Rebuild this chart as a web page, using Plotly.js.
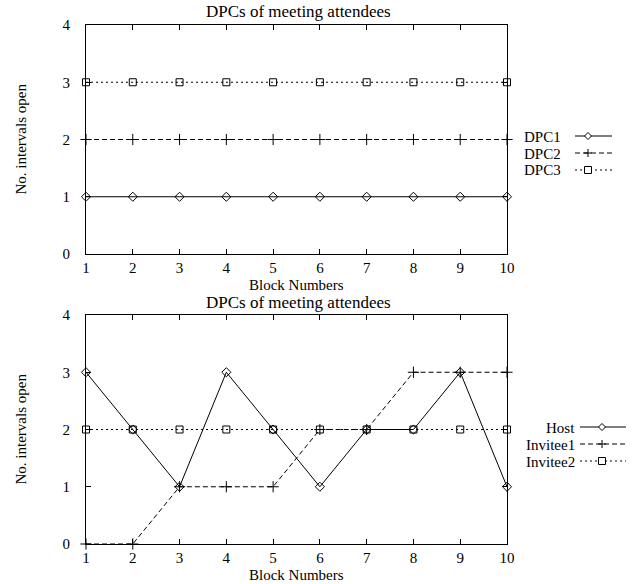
<!DOCTYPE html>
<html>
<head>
<meta charset="utf-8">
<script src="https://cdn.plot.ly/plotly-3.0.1.min.js"></script>
<style>html,body{margin:0;padding:0;background:#fff;}#chart{width:644px;height:584px;}</style>
</head>
<body>
<div id="chart"></div>
<script>
// ---- data ----
const blocks = [1, 2, 3, 4, 5, 6, 7, 8, 9, 10];
const dpc1 = [1, 1, 1, 1, 1, 1, 1, 1, 1, 1];
const dpc2 = [2, 2, 2, 2, 2, 2, 2, 2, 2, 2];
const dpc3 = [3, 3, 3, 3, 3, 3, 3, 3, 3, 3];
const host = [3, 2, 1, 3, 2, 1, 2, 2, 3, 1];
const invitee1 = [0, 0, 1, 1, 1, 2, 2, 3, 3, 3];
const invitee2 = [2, 2, 2, 2, 2, 2, 2, 2, 2, 2];
const topNames = ["DPC1", "DPC2", "DPC3"];
const botNames = ["Host", "Invitee1", "Invitee2"];
const chartTitle = "DPCs of meeting attendees";
const xTitle = "Block Numbers";
const yTitle = "No. intervals open";
const yTicks = [0, 1, 2, 3, 4];

const W = 644, H = 584;
const FONT = "Liberation Serif, Times New Roman, serif";
const px = x => x / W;
const py = y => 1 - y / H;

const styles = [
  {dash: "solid", symbol: "diamond-open", size: 7},
  {dash: "5px,3px", symbol: "cross-thin-open", size: 8},
  {dash: "2px,3px", symbol: "square-open", size: 7}
];

function mk(y, name, i, xa, ya) {
  return {
    x: blocks, y: y, name: name, xaxis: xa, yaxis: ya,
    type: "scatter", mode: "lines+markers", cliponaxis: false, showlegend: false,
    line: {color: "#000", width: 1, dash: styles[i].dash},
    marker: {symbol: styles[i].symbol, size: styles[i].size, color: "#000",
             line: {color: "#000", width: 1}}
  };
}

const traces = [
  mk(dpc1, topNames[0], 0, "x", "y"),
  mk(dpc2, topNames[1], 1, "x", "y"),
  mk(dpc3, topNames[2], 2, "x", "y"),
  mk(host, botNames[0], 0, "x2", "y2"),
  mk(invitee1, botNames[1], 1, "x2", "y2"),
  mk(invitee2, botNames[2], 2, "x2", "y2")
];

const xDom = [px(86), px(507)];
function xa(anchor) {
  return {domain: xDom, anchor: anchor, range: [1, 10], tickvals: blocks, ticktext: blocks.map(String),
    ticks: "inside", ticklen: 5, tickcolor: "#000", mirror: "ticks", showline: true,
    linecolor: "#000", linewidth: 1, showgrid: false, zeroline: false,
    tickfont: {family: FONT, size: 15, color: "#000"}, ticklabelstandoff: 0};
}
function ya(anchor, dom) {
  return {domain: dom, anchor: anchor, range: [0, 4], tickvals: yTicks, ticktext: yTicks.map(String),
    ticks: "inside", ticklen: 5, tickcolor: "#000", mirror: "ticks", showline: true,
    linecolor: "#000", linewidth: 1, showgrid: false, zeroline: false,
    tickfont: {family: FONT, size: 15, color: "#000"}, ticklabelstandoff: 12};
}

const annotations = [];
const shapes = [];
function txt(text, x, y, opts) {
  annotations.push(Object.assign({text: text, xref: "paper", yref: "paper", x: x, y: y,
    showarrow: false, font: {family: FONT, size: 17, color: "#000"},
    xanchor: "center", yanchor: "middle"}, opts || {}));
}
// titles
[0, 290].forEach(off => {
  txt(chartTitle, px(298), py(12 + off), {font: {family: FONT, size: 17, color: "#000"}});
  txt(xTitle, px(296), py(285 + off), {font: {family: FONT, size: 15, color: "#000"}});
  txt(yTitle, px(20), py(139.5 + off), {textangle: -90, font: {family: FONT, size: 15, color: "#000"}});
});

const markerPaths = [
  "M-3.5,0L0,3.5L3.5,0L0,-3.5Z",
  "M-4,0L4,0M0,-4L0,4",
  "M-3.5,-3.5L3.5,-3.5L3.5,3.5L-3.5,3.5Z"
];
function legend(names, textRight, x0, x1, xm, rows) {
  names.forEach((n, i) => {
    txt(n, px(textRight), py(rows[i]), {xanchor: "right", height: 13, borderpad: 0,
      font: {family: FONT, size: 15, color: "#000"}});
    shapes.push({type: "line", xref: "paper", yref: "paper", x0: px(x0), x1: px(x1),
      y0: py(rows[i]), y1: py(rows[i]), line: {color: "#000", width: 1, dash: styles[i].dash}});
    shapes.push({type: "path", xref: "paper", yref: "paper", xsizemode: "pixel", ysizemode: "pixel",
      xanchor: px(xm), yanchor: py(rows[i]), path: markerPaths[i],
      fillcolor: i === 1 ? "rgba(0,0,0,0)" : "#fff", line: {color: "#000", width: 1}});
  });
}
legend(topNames, 562, 575, 612, 588, [136, 153, 170]);
legend(botNames, 576, 580, 626, 602, [427, 444, 461]);

const layout = {
  width: W, height: H,
  margin: {l: 0, r: 0, t: 0, b: 0},
  paper_bgcolor: "#fff", plot_bgcolor: "#fff",
  showlegend: false,
  xaxis: xa("y"), yaxis: ya("x", [py(254), py(25)]),
  xaxis2: xa("y2"), yaxis2: ya("x2", [py(544), py(315)]),
  annotations: annotations, shapes: shapes
};

Plotly.newPlot("chart", traces, layout, {staticPlot: true});
</script>
</body>
</html>
